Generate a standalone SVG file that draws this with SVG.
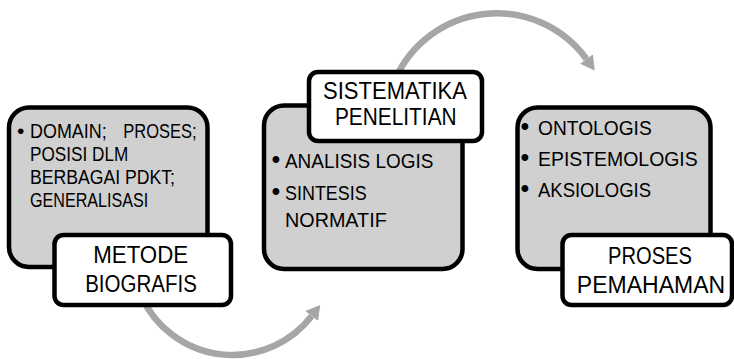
<svg xmlns="http://www.w3.org/2000/svg" width="734" height="359" viewBox="0 0 734 359">
  <defs>
    <style>
      .panel { fill: #d0d0d0; stroke: #000; stroke-width: 4.5; }
      .label { fill: #fff; stroke: #000; stroke-width: 4.5; }
      .body { font-family: "Liberation Sans", Arial, sans-serif; font-size: 20px; fill: #000; }
      .body.lg { font-size: 21px; }
      .big { font-family: "Liberation Sans", Arial, sans-serif; font-size: 23px; fill: #000; text-anchor: middle; }
      .dot { font-size: 25px; }
      .flow { fill: none; stroke: #a6a6a6; stroke-width: 6.5; }
    </style>
    <marker id="head" markerUnits="userSpaceOnUse" markerWidth="15" markerHeight="16" refX="0" refY="8" orient="auto" viewBox="0 0 15 16">
      <path d="M0,0 L14,8 L0,16 z" fill="#a6a6a6"/>
    </marker>
  </defs>

  <!-- curved flow arrows (drawn first so the labels sit on top) -->
  <g id="connectors">
    <path class="flow" d="M141.9,297.3 A100,100 0 0 0 311.7,316" marker-end="url(#head)"/>
    <path class="flow" d="M394.9,80 A111,111 0 0 1 586.5,59.1" marker-end="url(#head)"/>
  </g>

  <!-- step 1 -->
  <g id="metode-biografis">
    <rect class="panel" x="9" y="107.5" width="198.5" height="159.5" rx="20"/>
    <text class="body">
      <tspan x="17" y="138" font-size="21">•</tspan>
      <tspan x="30" y="138" textLength="76.7" lengthAdjust="spacingAndGlyphs">DOMAIN;</tspan>
      <tspan x="123.3" y="138" textLength="73.4" lengthAdjust="spacingAndGlyphs">PROSES;</tspan>
    </text>
    <text class="body" x="30" y="161" textLength="98.3" lengthAdjust="spacingAndGlyphs">POSISI DLM</text>
    <text class="body" x="30" y="184" textLength="145" lengthAdjust="spacingAndGlyphs">BERBAGAI PDKT;</text>
    <text class="body" x="30" y="207" textLength="118.3" lengthAdjust="spacingAndGlyphs">GENERALISASI</text>
    <rect class="label" x="54.5" y="235" width="176.5" height="70" rx="9"/>
    <text class="big" x="140.7" y="263" textLength="95" lengthAdjust="spacingAndGlyphs">METODE</text>
    <text class="big" x="141" y="291.7" textLength="111.7" lengthAdjust="spacingAndGlyphs">BIOGRAFIS</text>
  </g>

  <!-- step 2 -->
  <g id="sistematika-penelitian">
    <rect class="panel" x="264" y="105.5" width="198.5" height="163.5" rx="20"/>
    <text class="body">
      <tspan class="dot" x="271.5" y="168">•</tspan>
      <tspan x="285" y="168" textLength="148.3" lengthAdjust="spacingAndGlyphs">ANALISIS LOGIS</tspan>
    </text>
    <text class="body">
      <tspan class="dot" x="271.5" y="200">•</tspan>
      <tspan x="285" y="200" textLength="81.7" lengthAdjust="spacingAndGlyphs">SINTESIS</tspan>
    </text>
    <text class="body" x="285" y="227" textLength="101.7" lengthAdjust="spacingAndGlyphs">NORMATIF</text>
    <rect class="label" x="309" y="72" width="173" height="69" rx="9"/>
    <text class="big" x="395" y="99.3" textLength="144" lengthAdjust="spacingAndGlyphs">SISTEMATIKA</text>
    <text class="big" x="395.8" y="125.3" textLength="121.7" lengthAdjust="spacingAndGlyphs">PENELITIAN</text>
  </g>

  <!-- step 3 -->
  <g id="proses-pemahaman">
    <rect class="panel" x="517.5" y="107.5" width="193" height="161.5" rx="20"/>
    <text class="body lg">
      <tspan class="dot" x="520.5" y="135">•</tspan>
      <tspan x="538" y="135" textLength="113.7" lengthAdjust="spacingAndGlyphs">ONTOLOGIS</tspan>
    </text>
    <text class="body lg">
      <tspan class="dot" x="520.5" y="166">•</tspan>
      <tspan x="538" y="166" textLength="159.7" lengthAdjust="spacingAndGlyphs">EPISTEMOLOGIS</tspan>
    </text>
    <text class="body lg">
      <tspan class="dot" x="520.5" y="197">•</tspan>
      <tspan x="538" y="197" textLength="113" lengthAdjust="spacingAndGlyphs">AKSIOLOGIS</tspan>
    </text>
    <rect class="label" x="562.5" y="235" width="169.5" height="70" rx="9"/>
    <text class="big" x="650" y="264" textLength="84" lengthAdjust="spacingAndGlyphs">PROSES</text>
    <text class="big" x="651" y="293" textLength="148.3" lengthAdjust="spacingAndGlyphs">PEMAHAMAN</text>
  </g>
</svg>
